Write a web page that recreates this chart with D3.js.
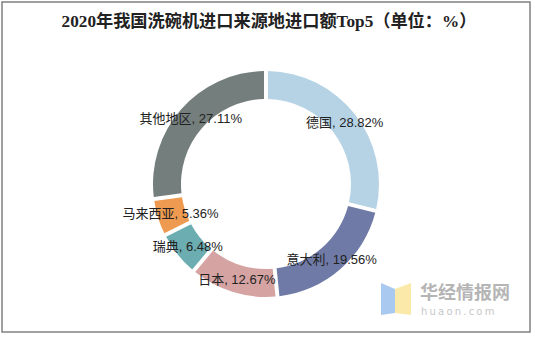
<!DOCTYPE html>
<html><head><meta charset="utf-8">
<script src="https://cdn.jsdelivr.net/npm/d3@7"></script>
<style>body{margin:0;background:#fff}svg{display:block}</style>
</head><body>
<script>
const categories = ["德国", "意大利", "日本", "瑞典", "马来西亚", "其他地区"];
const values = [28.82, 19.56, 12.67, 6.48, 5.36, 27.11];
const colors = ["#b5d3e5", "#6f7ba6", "#d5a3a2", "#6badb1", "#ee9a50", "#747e7c"];
const title = "2020年我国洗碗机进口来源地进口额Top5（单位：%）";

const W = 535, H = 337;
const svg = d3.select("body").append("svg").attr("width", W).attr("height", H);
svg.append("rect").attr("x", 2).attr("y", 2).attr("width", 528).attr("height", 330)
  .attr("fill", "#fff").attr("stroke", "#808080").attr("stroke-width", 1.5);

svg.append("text").attr("x", 269).attr("y", 27).attr("text-anchor", "middle")
  .attr("font-family", "'Liberation Serif','Noto Sans CJK SC',serif").attr("font-weight", "bold")
  .attr("font-size", 17.2).attr("fill", "#222").text(title);

const cx = 266, cy = 184, rO = 113, rI = 85;
const data = categories.map((c, i) => ({ name: c, value: values[i], color: colors[i] }));
const pie = d3.pie().sort(null).value(d => d.value);
const arc = d3.arc().innerRadius(rI).outerRadius(rO).padAngle(0.028);
const labelArc = d3.arc().innerRadius(100).outerRadius(100);
const g = svg.append("g").attr("transform", `translate(${cx},${cy})`);
const arcs = pie(data);
g.selectAll("path").data(arcs).join("path").attr("d", arc).attr("fill", d => d.data.color);
g.selectAll("text").data(arcs).join("text")
  .attr("transform", d => `translate(${labelArc.centroid(d)})`)
  .attr("text-anchor", "middle").attr("dy", "0.35em")
  .attr("font-family", "'Liberation Sans','Noto Sans CJK SC',sans-serif").attr("font-size", 13)
  .attr("fill", "#222")
  .text(d => `${d.data.name}, ${d.data.value.toFixed(2)}%`);

// watermark
const wm = svg.append("g");
wm.append("path").attr("d", "M381,283 L395,289 L395,313 L381,315 Z").attr("fill", "#a9c9f1");
wm.append("path").attr("d", "M395,289 L411,283 L411,315 L395,313 Z").attr("fill", "#fbe9a9");
wm.append("text").attr("x", 420).attr("y", 299).attr("font-family", "'Noto Sans CJK SC',sans-serif")
  .attr("font-size", 18).attr("fill", "#b5b5b5").attr("font-weight", "bold").text("华经情报网");
wm.append("text").attr("x", 421).attr("y", 315).attr("font-family", "'DejaVu Sans',sans-serif")
  .attr("font-size", 10).attr("fill", "#c8c8c8").attr("letter-spacing", 2.2).text("huaon.com");
</script>
</body></html>
